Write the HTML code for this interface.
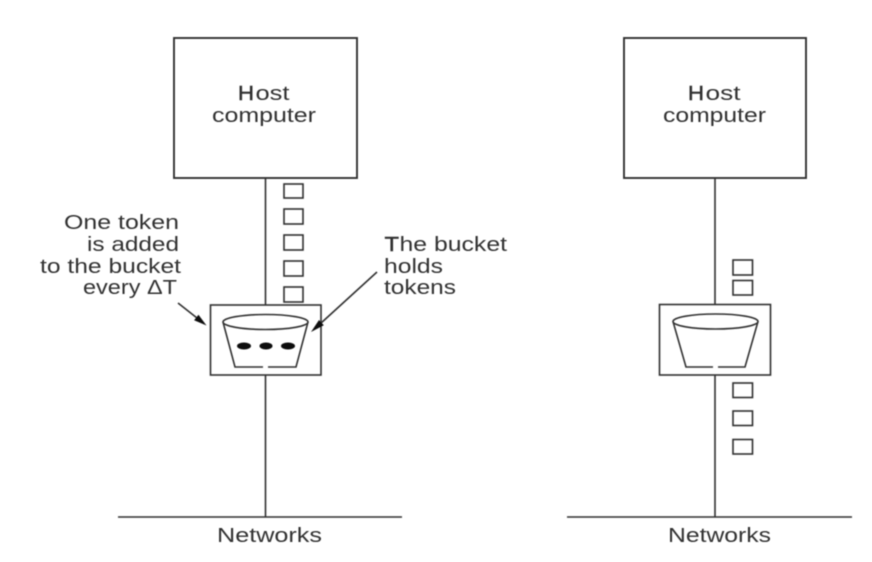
<!DOCTYPE html>
<html>
<head>
<meta charset="utf-8">
<style>
html,body{margin:0;padding:0;background:#fff;width:872px;height:562px;overflow:hidden}
svg{display:block}
text{font-family:"Liberation Sans",sans-serif;font-size:20px;fill:#333;stroke:none}
text.d{stroke:#222;stroke-width:.4px}
</style>
</head>
<body>
<svg width="872" height="562" viewBox="0 0 872 562" xmlns="http://www.w3.org/2000/svg">
<defs><filter id="b" x="-5%" y="-5%" width="110%" height="110%"><feGaussianBlur stdDeviation="0.4"/></filter></defs>
<g filter="url(#b)">
<g fill="none" stroke="#333" stroke-width="1.6">
<!-- left -->
<rect x="174" y="38" width="183" height="140" stroke-width="1.9"/>
<path d="M265.500 178V305M265.500 375V517M118 517H402"/>
<rect x="284" y="184" width="19" height="14"/>
<rect x="284" y="209" width="19" height="15"/>
<rect x="284" y="235" width="19" height="15"/>
<rect x="284" y="261" width="19" height="15"/>
<rect x="284" y="287" width="19" height="15"/>
<rect x="210.500" y="305" width="110.500" height="70"/>
<ellipse cx="265.500" cy="322" rx="42.500" ry="7.500"/>
<path d="M223 322L235 367H263M268 367H296L308 322"/>
<path d="M178 303L197 318M377 272L320 324"/>
<!-- right -->
<rect x="624" y="38" width="182" height="140" stroke-width="1.9"/>
<path d="M715 178V304M715 375V517M567 517H852"/>
<rect x="733" y="260" width="19.500" height="15"/>
<rect x="733" y="280.500" width="19.500" height="14.500"/>
<rect x="733" y="383" width="19.500" height="14.500"/>
<rect x="733" y="411" width="19.500" height="14.500"/>
<rect x="733" y="439.500" width="19.500" height="14.500"/>
<rect x="659.500" y="304.500" width="111" height="70.500"/>
<ellipse cx="715.500" cy="321.500" rx="42.500" ry="7.500"/>
<path d="M673 321.500L686 367H713M718 367H745L758 321.500"/>
</g>
<g fill="#111" stroke="none">
<ellipse cx="244" cy="346" rx="7" ry="3.500"/>
<ellipse cx="266" cy="346" rx="6.500" ry="3.500"/>
<ellipse cx="288" cy="346" rx="7" ry="3.500"/>
<polygon points="206.500,325.500 194.100,320.200 198.500,314.700"/>
<polygon points="311,332 323.800,325.200 319,320"/>
</g>
<g>
<text class="d" x="238" y="100" textLength="16" lengthAdjust="spacingAndGlyphs">H</text>
<text x="255.500" y="100" textLength="34" lengthAdjust="spacingAndGlyphs">ost</text>
<text x="212" y="122" textLength="104" lengthAdjust="spacingAndGlyphs">computer</text>
<text class="d" x="688" y="100" textLength="16" lengthAdjust="spacingAndGlyphs">H</text>
<text x="705.500" y="100" textLength="35" lengthAdjust="spacingAndGlyphs">ost</text>
<text x="663" y="122" textLength="103" lengthAdjust="spacingAndGlyphs">computer</text>
<text x="64" y="229" textLength="115" lengthAdjust="spacingAndGlyphs">One token</text>
<text x="87" y="251" textLength="92" lengthAdjust="spacingAndGlyphs">is added</text>
<text x="40" y="273" textLength="141" lengthAdjust="spacingAndGlyphs">to the bucket</text>
<text x="83" y="294" textLength="94" lengthAdjust="spacingAndGlyphs">every ΔT</text>
<text class="d" x="384.500" y="251" textLength="14.500" lengthAdjust="spacingAndGlyphs">T</text>
<text x="399.500" y="251" textLength="107.500" lengthAdjust="spacingAndGlyphs">he bucket</text>
<text x="384" y="273" textLength="59" lengthAdjust="spacingAndGlyphs">holds</text>
<text x="384" y="294" textLength="72" lengthAdjust="spacingAndGlyphs">tokens</text>
<text x="217" y="542" textLength="105" lengthAdjust="spacingAndGlyphs">Networks</text>
<text x="668" y="542" textLength="103" lengthAdjust="spacingAndGlyphs">Networks</text>
</g>
</g>
</svg>
</body>
</html>
